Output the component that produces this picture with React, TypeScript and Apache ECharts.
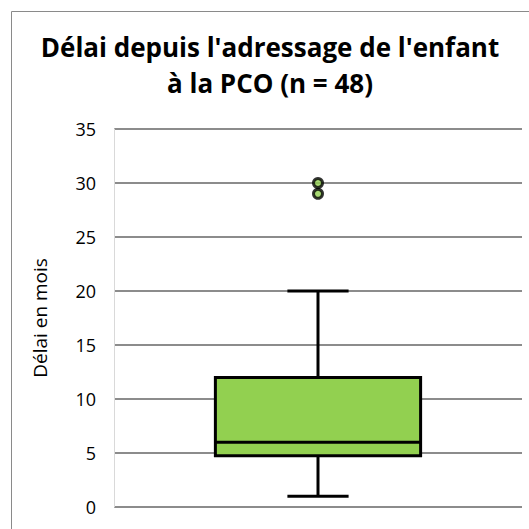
import React, { useEffect, useRef } from "react";
import * as echarts from "echarts";

const categories = ["PCO"];
const boxStats = [[1, 4.75, 6, 12, 20]]; // min, Q1, median, Q3, max
const outliers = [[0, 30], [0, 29]];
const yTicks = { min: 0, max: 35, interval: 5 };
const titleText = "Délai depuis l'adressage de l'enfant\nà la PCO (n = 48)";
const yAxisName = "Délai en mois";

export default function App() {
  const ref = useRef<HTMLDivElement>(null);
  useEffect(() => {
    document.documentElement.style.overflow = "hidden";
    document.body.style.overflow = "hidden";
    const chart = echarts.init(ref.current!, null, { renderer: "svg" });
    chart.setOption({
      animation: false,
      backgroundColor: "#fff",
      title: {
        text: titleText,
        left: 265,
        top: 24,
        textAlign: "center",
        textStyle: {
          fontFamily: "Open Sans",
          fontWeight: "bold",
          fontSize: 26,
          lineHeight: 36,
          color: "#000",
        },
      },
      graphic: [
        {
          type: "line",
          shape: { x1: 11.5, y1: 529, x2: 11.5, y2: 11.5 },
          style: { stroke: "#8a8a8a", lineWidth: 1 },
          silent: true,
        },
        {
          type: "line",
          shape: { x1: 11.5, y1: 11.5, x2: 529, y2: 11.5 },
          style: { stroke: "#8a8a8a", lineWidth: 1 },
          silent: true,
        },
        {
          type: "text",
          x: 40,
          y: 318,
          rotation: Math.PI / 2,
          style: {
            text: yAxisName,
            fontFamily: "Open Sans",
            fontSize: 19,
            fill: "#000",
            align: "center",
            verticalAlign: "middle",
          },
          silent: true,
        },
      ],
      grid: { left: 114, top: 129, right: 7, bottom: 22, containLabel: false },
      xAxis: {
        type: "category",
        data: categories,
        axisLine: { show: false },
        axisTick: { show: false },
        axisLabel: { show: false },
        splitLine: { show: false },
      },
      yAxis: {
        type: "value",
        min: yTicks.min,
        max: yTicks.max,
        interval: yTicks.interval,
        axisLine: { show: true, lineStyle: { color: "#d9d9d9", width: 1 } },
        axisTick: { show: false },
        axisLabel: {
          fontFamily: "Open Sans",
          fontSize: 18,
          color: "#000",
          margin: 18,
        },
        splitLine: { lineStyle: { color: "#8c8c8c", width: 1.8 } },
      },
      series: [
        {
          type: "custom",
          data: boxStats.map((d, i) => [i, ...d]),
          encode: { x: 0, y: [1, 2, 3, 4, 5] },
          renderItem: (params: any, api: any) => {
            const xi = api.value(0);
            const pMin = api.coord([xi, api.value(1)]);
            const pQ1 = api.coord([xi, api.value(2)]);
            const pMed = api.coord([xi, api.value(3)]);
            const pQ3 = api.coord([xi, api.value(4)]);
            const pMax = api.coord([xi, api.value(5)]);
            const band = api.size([1, 0])[0];
            const bw = band * 0.503;
            const cw = band * 0.15;
            const cx = pMin[0];
            const lineStyle = { stroke: "#000", lineWidth: 3 };
            return {
              type: "group",
              children: [
                { type: "line", shape: { x1: cx, y1: pMax[1], x2: cx, y2: pQ3[1] }, style: lineStyle },
                { type: "line", shape: { x1: cx, y1: pQ1[1], x2: cx, y2: pMin[1] }, style: lineStyle },
                { type: "line", shape: { x1: cx - cw / 2, y1: pMax[1], x2: cx + cw / 2, y2: pMax[1] }, style: lineStyle },
                { type: "line", shape: { x1: cx - cw / 2, y1: pMin[1], x2: cx + cw / 2, y2: pMin[1] }, style: lineStyle },
                {
                  type: "rect",
                  shape: { x: cx - bw / 2, y: pQ3[1], width: bw, height: pQ1[1] - pQ3[1] },
                  style: { fill: "#92d050", stroke: "#000", lineWidth: 3 },
                },
                { type: "line", shape: { x1: cx - bw / 2, y1: pMed[1], x2: cx + bw / 2, y2: pMed[1] }, style: lineStyle },
              ],
            };
          },
          z: 2,
        },
        {
          type: "scatter",
          data: outliers,
          symbol: "circle",
          symbolSize: 9,
          itemStyle: { color: "#92d050", borderColor: "#000", borderWidth: 3 },
          z: 3,
        },
      ],
    });
    return () => chart.dispose();
  }, []);
  return (
    <div
      ref={ref}
      style={{ width: 529, height: 529, position: "fixed", left: 0, top: 0, overflow: "hidden" }}
    />
  );
}
